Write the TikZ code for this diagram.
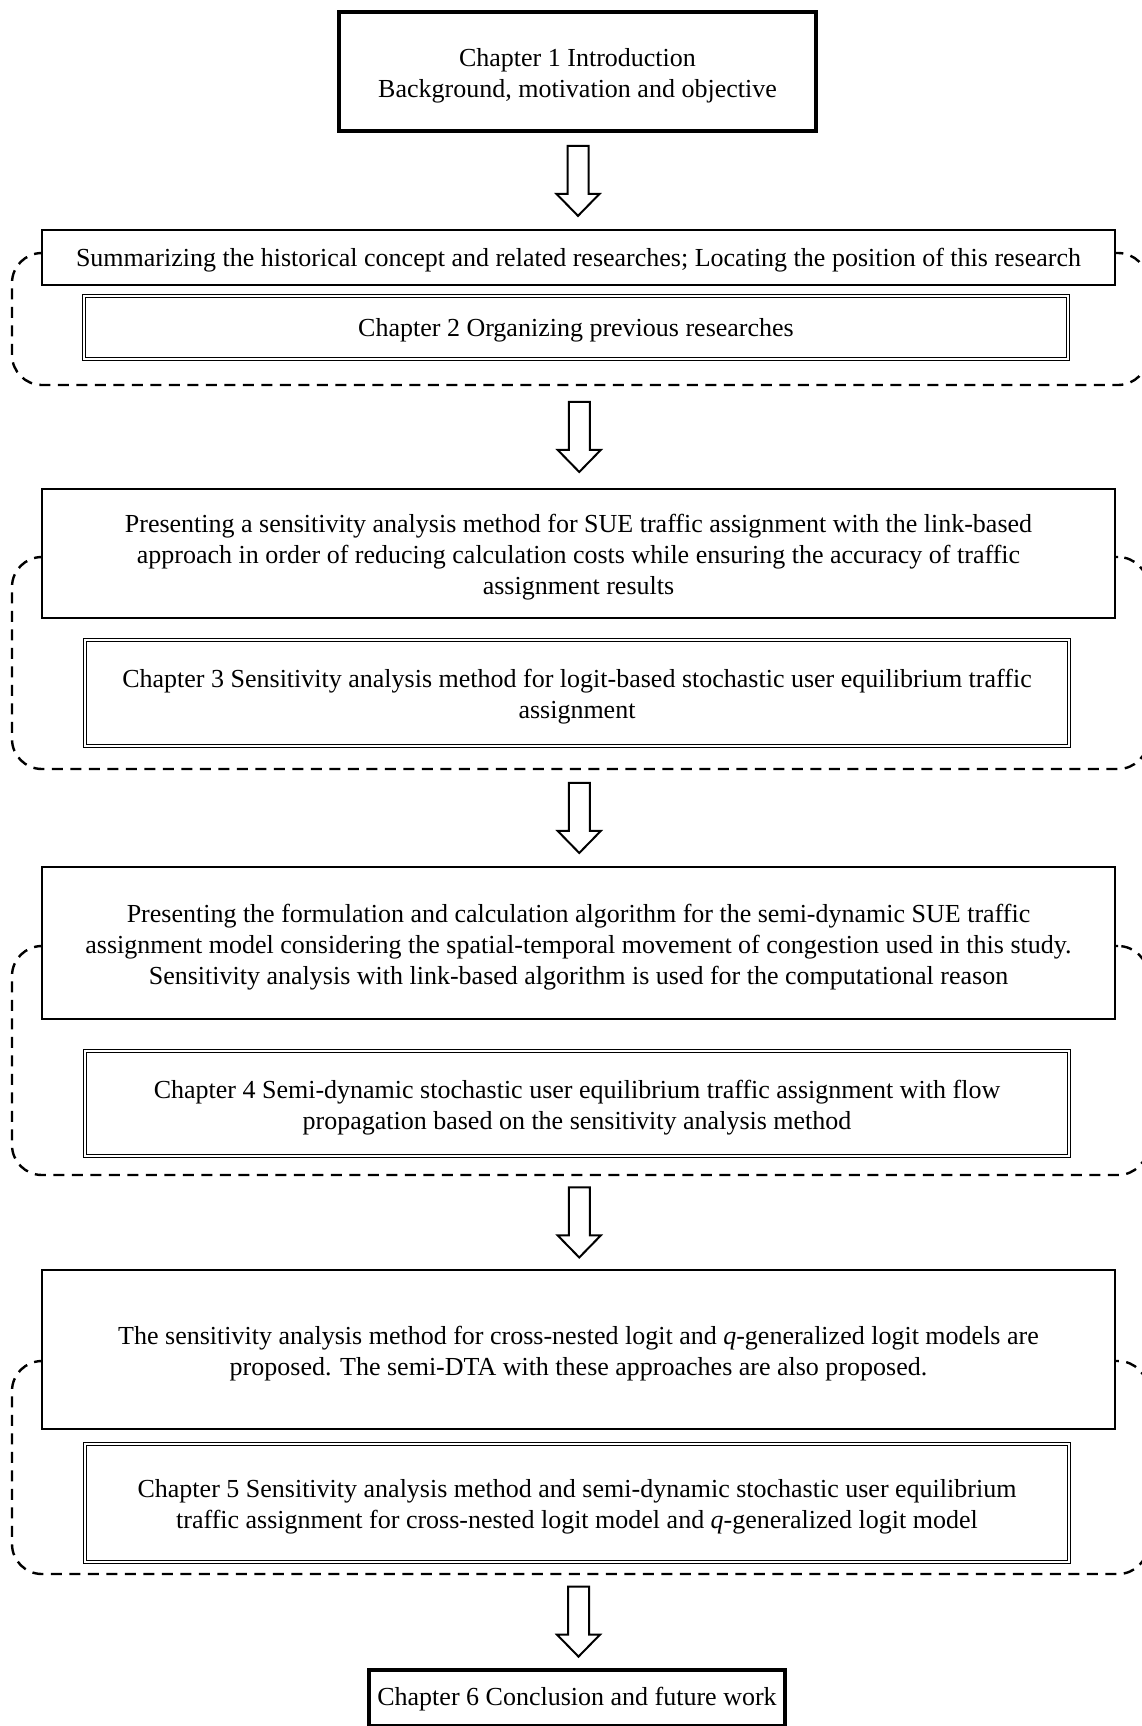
\documentclass[tikz,border=0pt]{standalone}
\usepackage{fontspec}
\setmainfont{Liberation Serif}
\usetikzlibrary{calc}
\newcommand{\myblockarrow}[1]{%
  \draw[arrowline] ($(#1)+(-10.5,-35)$) -- ($(#1)+(10.5,-35)$) -- ($(#1)+(10.5,13)$) -- ($(#1)+(21.5,13)$) -- ($(#1)+(0,35)$) -- ($(#1)+(-21.5,13)$) -- ($(#1)+(-10.5,13)$) -- cycle;}
\newcommand{\thickthininner}[1]{%
  \draw[line width=1.2pt] ($(#1.north west)+(3.8,3.8)$) rectangle ($(#1.south east)+(-3.8,-3.8)$);}
\begin{document}
\begin{tikzpicture}[x=1pt,y=-1pt,
  every node/.style={inner sep=0pt},
  txt/.style={font=\fontsize{26}{31}\selectfont, align=center},
  upbox/.style={draw, line width=2.5pt, fill=white, minimum width=1073pt},
  chbox/.style={draw, line width=1.3pt, double, double distance=2.2pt, fill=white, minimum width=984pt},
  ttbox/.style={draw, line width=3.5pt, fill=white},
  grp/.style={draw, dash pattern=on 11pt off 7.5pt, line width=2.4pt, rounded corners=30pt, minimum width=1136pt},
  arrowline/.style={line width=2pt, fill=white, line join=miter}]
\useasboundingbox (0,0) rectangle (1142,1726);
\clip (0,0) rectangle (1142,1726);
\fill[white] (0,0) rectangle (1142,1726);

% Chapter 1
\node[ttbox, minimum width=477.5pt, minimum height=119.5pt] (b1) at (577.5,71.5) {};
\thickthininner{b1}
\node[txt] (b1t) at ([yshift=-4pt]b1.center)
  {Chapter 1 Introduction\\Background, motivation and objective};

% Group 1
\node[grp, minimum height=132pt] (d1) at (580,319) {};
\node[upbox, minimum height=55pt] (u1) at (578.5,257.5) {};
\node[txt] (u1t) at ([yshift=-3pt]u1.center)
  {Summarizing the historical concept and related researches; Locating the position of this research};
\node[chbox, minimum height=63pt] (i1) at (576,327.5) {};
\node[txt] (i1t) at ([yshift=-3pt]i1.center)
  {Chapter 2 Organizing previous researches};

% Group 2
\node[grp, minimum height=212pt] (d2) at (580,663) {};
\node[upbox, minimum height=129pt] (u2) at (578.5,553.5) {};
\node[txt] (u2t) at ([yshift=-4pt]u2.center)
  {Presenting a sensitivity analysis method for SUE traffic assignment with the link-based\\
   approach in order of reducing calculation costs while ensuring the accuracy of traffic\\
   assignment results};
\node[chbox, minimum height=106pt] (i2) at (577,693) {};
\node[txt] (i2t) at ([yshift=-4pt]i2.center)
  {Chapter 3 Sensitivity analysis method for logit-based stochastic user equilibrium traffic\\
   assignment};

% Group 3
\node[grp, minimum height=229pt] (d3) at (580,1060.5) {};
\node[upbox, minimum height=152pt] (u3) at (578.5,943) {};
\node[txt] (u3t) at ([yshift=-4pt]u3.center)
  {Presenting the formulation and calculation algorithm for the semi-dynamic SUE traffic\\
   assignment model considering the spatial-temporal movement of congestion used in this study.\\
   Sensitivity analysis with link-based algorithm is used for the computational reason};
\node[chbox, minimum height=105pt] (i3) at (577,1103.5) {};
\node[txt] (i3t) at ([yshift=-4pt]i3.center)
  {Chapter 4 Semi-dynamic stochastic user equilibrium traffic assignment with flow\\
   propagation based on the sensitivity analysis method};

% Group 4
\node[grp, minimum height=213pt] (d4) at (580,1467.5) {};
\node[upbox, minimum height=159pt] (u4) at (578.5,1349.5) {};
\node[txt] (u4t) at ([yshift=-4pt]u4.center)
  {The sensitivity analysis method for cross-nested logit and \textit{q}-generalized logit models are\\
   proposed. The semi-DTA with these approaches are also proposed.};
\node[chbox, minimum height=118pt] (i4) at (577,1503) {};
\node[txt] (i4t) at ([yshift=-4pt]i4.center)
  {Chapter 5 Sensitivity analysis method and semi-dynamic stochastic user equilibrium\\
   traffic assignment for cross-nested logit model and \textit{q}-generalized logit model};

% Chapter 6
\node[ttbox, minimum width=416.5pt, minimum height=56.5pt] (b6) at (577,1698) {};
\thickthininner{b6}
\node[txt] (b6t) at ([yshift=-1pt]b6.center) {Chapter 6 Conclusion and future work};

% Block arrows between nodes
\coordinate (m1) at ($(b1.south)!0.5!(u1.north)$);
\coordinate (m2) at ($(d1.south)!0.5!(u2.north)$);
\coordinate (m3) at ($(d2.south)!0.5!(u3.north)$);
\coordinate (m4) at ($(d3.south)!0.5!(u4.north)$);
\coordinate (m5) at ($(d4.south)!0.5!(b6.north)$);
\myblockarrow{m1}
\myblockarrow{m2}
\myblockarrow{m3}
\myblockarrow{m4}
\myblockarrow{m5}
\end{tikzpicture}
\end{document}
